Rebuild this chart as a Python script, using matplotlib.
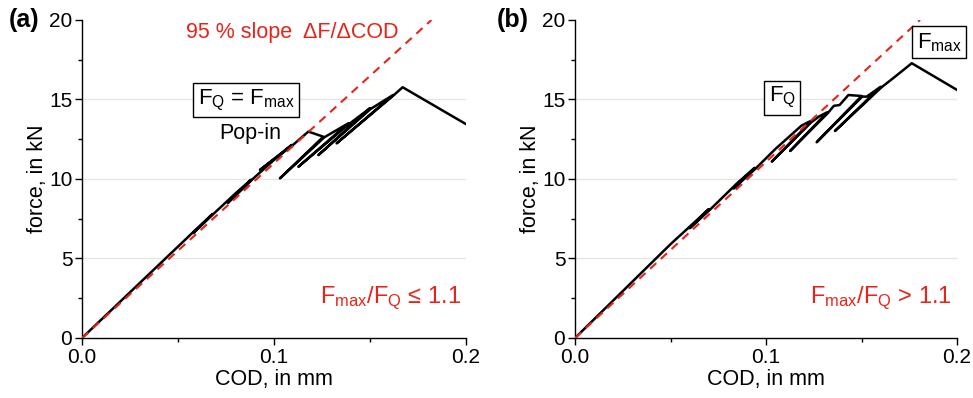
"""
Force vs. COD curves, pop-in (a) and F_Q < F_max (b)
"""

import matplotlib
matplotlib.use("Agg")
import matplotlib.pyplot as plt
from matplotlib.ticker import MultipleLocator

plt.rcParams["font.family"] = ["Liberation Sans", "DejaVu Sans"]
plt.rcParams["mathtext.fontset"] = "custom"
plt.rcParams["mathtext.rm"] = "Liberation Sans"
plt.rcParams["mathtext.it"] = "Liberation Sans"
plt.rcParams["mathtext.default"] = "rm"

RED = "#e8231a"

cod_a = [0.000, 0.060, 0.068, 0.058, 0.068, 0.080, 0.088, 0.076, 0.0885,
         0.100, 0.1092, 0.0927, 0.1095, 0.1179, 0.1257, 0.1031, 0.1262,
         0.1387, 0.1127, 0.1390, 0.1500, 0.1231, 0.1503, 0.1620, 0.1326,
         0.1622, 0.1670, 0.2000]
force_a = [0.00, 6.90, 7.80, 6.60, 7.75, 9.10, 9.95, 8.50, 9.95,
           11.20, 12.14, 10.57, 12.10, 12.98, 12.66, 10.04, 12.62,
           13.50, 10.77, 13.45, 14.45, 11.50, 14.40, 15.28, 12.24,
           15.25, 15.77, 13.45]
# 95 % secant line end point
slope_a = [0.0, 0.182]
slope_force_a = [0.0, 20.0]

# (b) measured curve
cod_b = [0.000, 0.050, 0.070, 0.060, 0.0705, 0.085, 0.094, 0.083, 0.0945,
         0.105, 0.112, 0.1185, 0.1225, 0.1235, 0.1030, 0.1238, 0.1280,
         0.1321, 0.1126, 0.1324, 0.1355, 0.1385, 0.1431, 0.1500, 0.1265,
         0.1503, 0.1527, 0.1600, 0.1361, 0.1603, 0.1675, 0.1763, 0.2000]
force_b = [0.00, 5.90, 8.10, 6.90, 8.05, 9.75, 10.70, 9.40, 10.65,
           11.90, 12.65, 13.35, 13.60, 13.62, 11.09, 13.58, 13.95,
           14.20, 11.76, 14.15, 14.60, 14.65, 15.28, 15.22, 12.31,
           15.18, 15.18, 15.80, 13.02, 15.75, 16.43, 17.28, 15.60]
slope_b = [0.0, 0.1806]
slope_force_b = [0.0, 20.0]


def style_axes(ax):
    ax.set_xlim(0, 0.2)
    ax.set_ylim(0, 20)
    ax.spines["top"].set_visible(False)
    ax.spines["right"].set_visible(False)
    for s in ("left", "bottom"):
        ax.spines[s].set_linewidth(1.0)
    ax.xaxis.set_major_locator(MultipleLocator(0.1))
    ax.xaxis.set_minor_locator(MultipleLocator(0.05))
    ax.yaxis.set_major_locator(MultipleLocator(5))
    ax.yaxis.set_minor_locator(MultipleLocator(2.5))
    ax.xaxis.set_major_formatter(plt.FuncFormatter(lambda v, p: f"{v:.1f}"))
    ax.tick_params(which="major", direction="out", length=5, width=1,
                   labelsize=15, pad=2)
    ax.tick_params(which="minor", direction="out", length=3, width=1)
    for yv in (5, 10, 15):
        ax.axhline(yv, color="#e6e6dc", lw=1.0, zorder=0)
    ax.set_xlabel("COD, in mm", fontsize=15.5, labelpad=2)
    ax.set_ylabel("force, in kN", fontsize=15.5, labelpad=1)


fig = plt.figure(figsize=(9.73, 3.98), dpi=100)
ax1 = fig.add_axes([0.0843, 0.1508, 0.3946, 0.799])
ax2 = fig.add_axes([0.591, 0.1508, 0.3926, 0.799])

box = dict(boxstyle="square,pad=0.2", fc="white", ec="black", lw=1.0)

# (a)
style_axes(ax1)
ax1.plot(slope_a, slope_force_a, color=RED, lw=1.5, ls=(0, (4, 3)), zorder=3)
ax1.plot(cod_a, force_a, color="black", lw=1.8, zorder=2)
ax1.text(0.1095, 19.2, "95 % slope  ΔF/ΔCOD", color=RED, fontsize=15.5,
         ha="center", va="center")
ax1.text(0.0854, 14.97, r"$F_Q$ = $F_{max}$", fontsize=16, ha="center",
         va="center", bbox=box, zorder=5)
ax1.text(0.0875, 12.85, "Pop-in", fontsize=15.5, ha="center", va="center")
ax1.text(0.1975, 2.5, r"$F_{max}$/$F_Q$ ≤ 1.1", color=RED, fontsize=17,
         ha="right", va="center")
fig.text(0.009, 0.949, "(a)", fontsize=18, fontweight="bold", va="center")

# (b)
style_axes(ax2)
ax2.plot(slope_b, slope_force_b, color=RED, lw=1.5, ls=(0, (4, 3)), zorder=3)
ax2.plot(cod_b, force_b, color="black", lw=1.8, zorder=2)
ax2.text(0.1084, 15.1, r"$F_Q$", fontsize=16, ha="center", va="center",
         bbox=box, zorder=5)
ax2.text(0.1906, 18.6, r"$F_{max}$", fontsize=16, ha="center", va="center",
         bbox=box, zorder=5, clip_on=False)
ax2.text(0.1975, 2.5, r"$F_{max}$/$F_Q$ > 1.1", color=RED, fontsize=17,
         ha="right", va="center")
fig.text(0.511, 0.949, "(b)", fontsize=18, fontweight="bold", va="center")

fig.savefig("out.png", dpi=100)
